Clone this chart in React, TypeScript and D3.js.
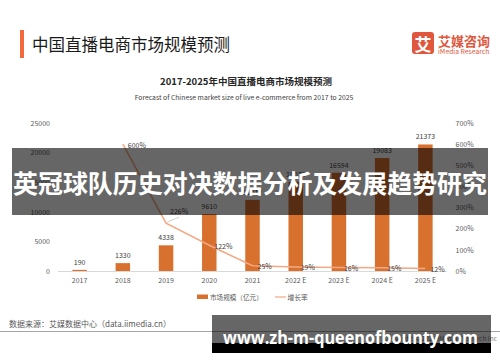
import * as d3 from 'd3';
import { useEffect, useRef } from 'react';

const years = ['2017', '2018', '2019', '2020', '2021', '2022 E', '2023 E', '2024 E', '2025 E'];
const marketSize = [190, 1330, 4338, 9610, 12012, 15073, 16594, 19083, 21373];
const growthRate: (number | null)[] = [null, 600, 226, 122, 25, 19, 16, 15, 12];
const leftTicks = [0, 5000, 10000, 15000, 20000, 25000];
const rightTicks = [0, 100, 200, 300, 400, 500, 600, 700];

const FONT = '"Noto Sans CJK SC", "Noto Sans", sans-serif';
const BAR = '#D8712E';
const LINE = '#F4A883';
const GREY = '#595959';

export default function App() {
    const ref = useRef<SVGSVGElement>(null);

    const width = 500,
        height = 362;
    const plot = { left: 58, right: 447, top: 123, bottom: 271 };

    useEffect(() => {
        const svg = d3.select(ref.current);
        svg.selectAll('*').remove();
        svg.attr('font-family', FONT);

        // header
        svg.append('rect').attr('x', 20).attr('y', 30).attr('width', 4).attr('height', 28).attr('fill', '#F26A3C');
        svg.append('text').attr('x', 32).attr('y', 44).attr('dominant-baseline', 'central')
            .attr('font-size', 16.5).attr('fill', '#1a1a1a').text('中国直播电商市场规模预测');

        // logo
        svg.append('rect').attr('x', 412).attr('y', 32).attr('width', 22).attr('height', 22).attr('rx', 3).attr('fill', '#E0573D');
        svg.append('text').attr('x', 423).attr('y', 43.5).attr('text-anchor', 'middle').attr('dominant-baseline', 'central')
            .attr('font-size', 17).attr('font-weight', 'bold').attr('fill', '#fff').text('艾');
        svg.append('text').attr('x', 438).attr('y', 40).attr('dominant-baseline', 'central')
            .attr('font-size', 13).attr('font-weight', 'bold').attr('fill', '#E0573D').text('艾媒咨询');
        svg.append('text').attr('x', 438).attr('y', 50.5).attr('dominant-baseline', 'central')
            .attr('font-size', 6.8).attr('fill', '#E0573D').text('iMedia Research');

        // chart titles
        svg.append('text').attr('x', 246).attr('y', 81).attr('text-anchor', 'middle').attr('dominant-baseline', 'central')
            .attr('font-size', 9.5).attr('font-weight', 'bold').attr('fill', '#262626').text('2017-2025年中国直播电商市场规模预测');
        svg.append('text').attr('x', 244).attr('y', 96.5).attr('text-anchor', 'middle').attr('dominant-baseline', 'central')
            .attr('font-size', 6.8).attr('fill', '#404040')
            .text('Forecast of Chinese market size of live e-commerce from 2017 to 2025');

        const x = d3.scaleBand().domain(years).range([plot.left, plot.right]).paddingInner(0.665).paddingOuter(0.3325);
        const y = d3.scaleLinear().domain([0, 25000]).range([plot.bottom, plot.top]);
        const yR = d3.scaleLinear().domain([0, 700]).range([plot.bottom, plot.top]);

        const styleAxis = (g: d3.Selection<SVGGElement, unknown, null, undefined>) => {
            g.select('.domain').remove();
            g.selectAll('text').attr('font-size', 7).attr('fill', GREY).attr('font-family', FONT);
        };

        svg.append('g').attr('transform', 'translate(50,0)')
            .call(d3.axisLeft(y).tickValues(leftTicks).tickSize(0).tickPadding(0).tickFormat(d3.format('d')))
            .call(styleAxis);
        svg.append('g').attr('transform', 'translate(455.5,0)')
            .call(d3.axisRight(yR).tickValues(rightTicks).tickSize(0).tickPadding(0).tickFormat((d) => `${d}%`))
            .call(styleAxis);
        svg.append('g').attr('transform', `translate(0,${plot.bottom})`)
            .call(d3.axisBottom(x).tickSize(0).tickPadding(7.5))
            .call(styleAxis);
        svg.append('line').attr('x1', plot.left).attr('x2', plot.right).attr('y1', plot.bottom + 0.5).attr('y2', plot.bottom + 0.5)
            .attr('stroke', '#D9D9D9');

        // bars
        svg.selectAll('rect.bar').data(marketSize).join('rect').attr('class', 'bar')
            .attr('x', (_, i) => x(years[i])!)
            .attr('y', (d) => y(d))
            .attr('width', x.bandwidth())
            .attr('height', (d) => plot.bottom - y(d))
            .attr('fill', BAR);
        svg.selectAll('text.val').data(marketSize).join('text').attr('class', 'val')
            .attr('x', (_, i) => x(years[i])! + x.bandwidth() / 2)
            .attr('y', (d) => y(d) - 5)
            .attr('text-anchor', 'middle').attr('font-size', 7).attr('fill', '#404040')
            .text((d) => d);

        // growth line
        const pts = growthRate
            .map((v, i) => ({ v, cx: x(years[i])! + x.bandwidth() / 2 }))
            .filter((p) => p.v !== null) as { v: number; cx: number }[];
        const line = d3.line<{ v: number; cx: number }>().x((d) => d.cx).y((d) => yR(d.v));
        svg.append('path').attr('d', line(pts)).attr('fill', 'none').attr('stroke', LINE).attr('stroke-width', 1.5);

        // 226% label sits above with a leader line
        const p226 = pts[1];
        svg.append('line').attr('x1', p226.cx + 1).attr('y1', yR(p226.v) - 1).attr('x2', p226.cx + 13).attr('y2', yR(p226.v) - 6)
            .attr('stroke', '#BFBFBF').attr('stroke-width', 0.7);
        svg.selectAll('text.rate').data(pts).join('text').attr('class', 'rate')
            .attr('x', (d, i) => d.cx + (i === 1 ? 4 : 5))
            .attr('y', (d, i) => yR(d.v) + (i === 1 ? -12 : 0.5))
            .attr('dominant-baseline', 'central').attr('font-size', 7).attr('fill', '#404040')
            .text((d) => `${d.v}%`);

        // legend
        svg.append('rect').attr('x', 197).attr('y', 294.5).attr('width', 11).attr('height', 4.5).attr('fill', BAR);
        svg.append('text').attr('x', 210).attr('y', 297).attr('dominant-baseline', 'central').attr('font-size', 6.6)
            .attr('fill', GREY).text('市场规模（亿元）');
        svg.append('line').attr('x1', 275).attr('x2', 286).attr('y1', 297).attr('y2', 297).attr('stroke', LINE).attr('stroke-width', 1.2);
        svg.append('text').attr('x', 287.5).attr('y', 297).attr('dominant-baseline', 'central').attr('font-size', 6.8)
            .attr('fill', GREY).text('增长率');

        // footer
        svg.append('text').attr('x', 9).attr('y', 323).attr('dominant-baseline', 'central').attr('font-size', 8)
            .attr('fill', GREY).text('数据来源：艾媒数据中心（data.iimedia.cn）');
        svg.append('line').attr('x1', 0).attr('x2', width).attr('y1', 331.5).attr('y2', 331.5).attr('stroke', '#A6A6A6');
        svg.append('text').attr('x', 497).attr('y', 337.5).attr('text-anchor', 'end').attr('dominant-baseline', 'central')
            .attr('font-size', 6.5).attr('fill', '#7F7F7F').text('Copyright © 2021 iMedia Research Inc');

        // overlay banners
        svg.append('rect').attr('x', 12).attr('y', 148).attr('width', 476).attr('height', 67).attr('fill', '#000').attr('opacity', 0.6);
        svg.append('text').attr('x', 13).attr('y', 182).attr('dominant-baseline', 'central')
            .attr('font-size', 25).attr('font-weight', 'bold').attr('fill', '#fff')
            .attr('textLength', 474).attr('lengthAdjust', 'spacingAndGlyphs')
            .text('英冠球队历史对决数据分析及发展趋势研究');

        svg.append('rect').attr('x', 212).attr('y', 315).attr('width', 279).attr('height', 28).attr('fill', '#000').attr('opacity', 0.6);
        svg.append('rect').attr('x', 212).attr('y', 343).attr('width', 279).attr('height', 10).attr('fill', '#000');
        svg.append('text').attr('x', 223).attr('y', 337.5).attr('dominant-baseline', 'central')
            .attr('font-size', 17).attr('font-weight', 'bold').attr('font-family', '"Open Sans", sans-serif')
            .attr('textLength', 255).attr('lengthAdjust', 'spacingAndGlyphs')
            .attr('fill', '#fff').text('www.zh-m-queenofbounty.com');
    }, []);

    return (
        <svg
            ref={ref}
            width={width}
            height={height}
            style={{ position: 'absolute', left: 0, top: 0, background: '#fff' }}
        />
    );
}
